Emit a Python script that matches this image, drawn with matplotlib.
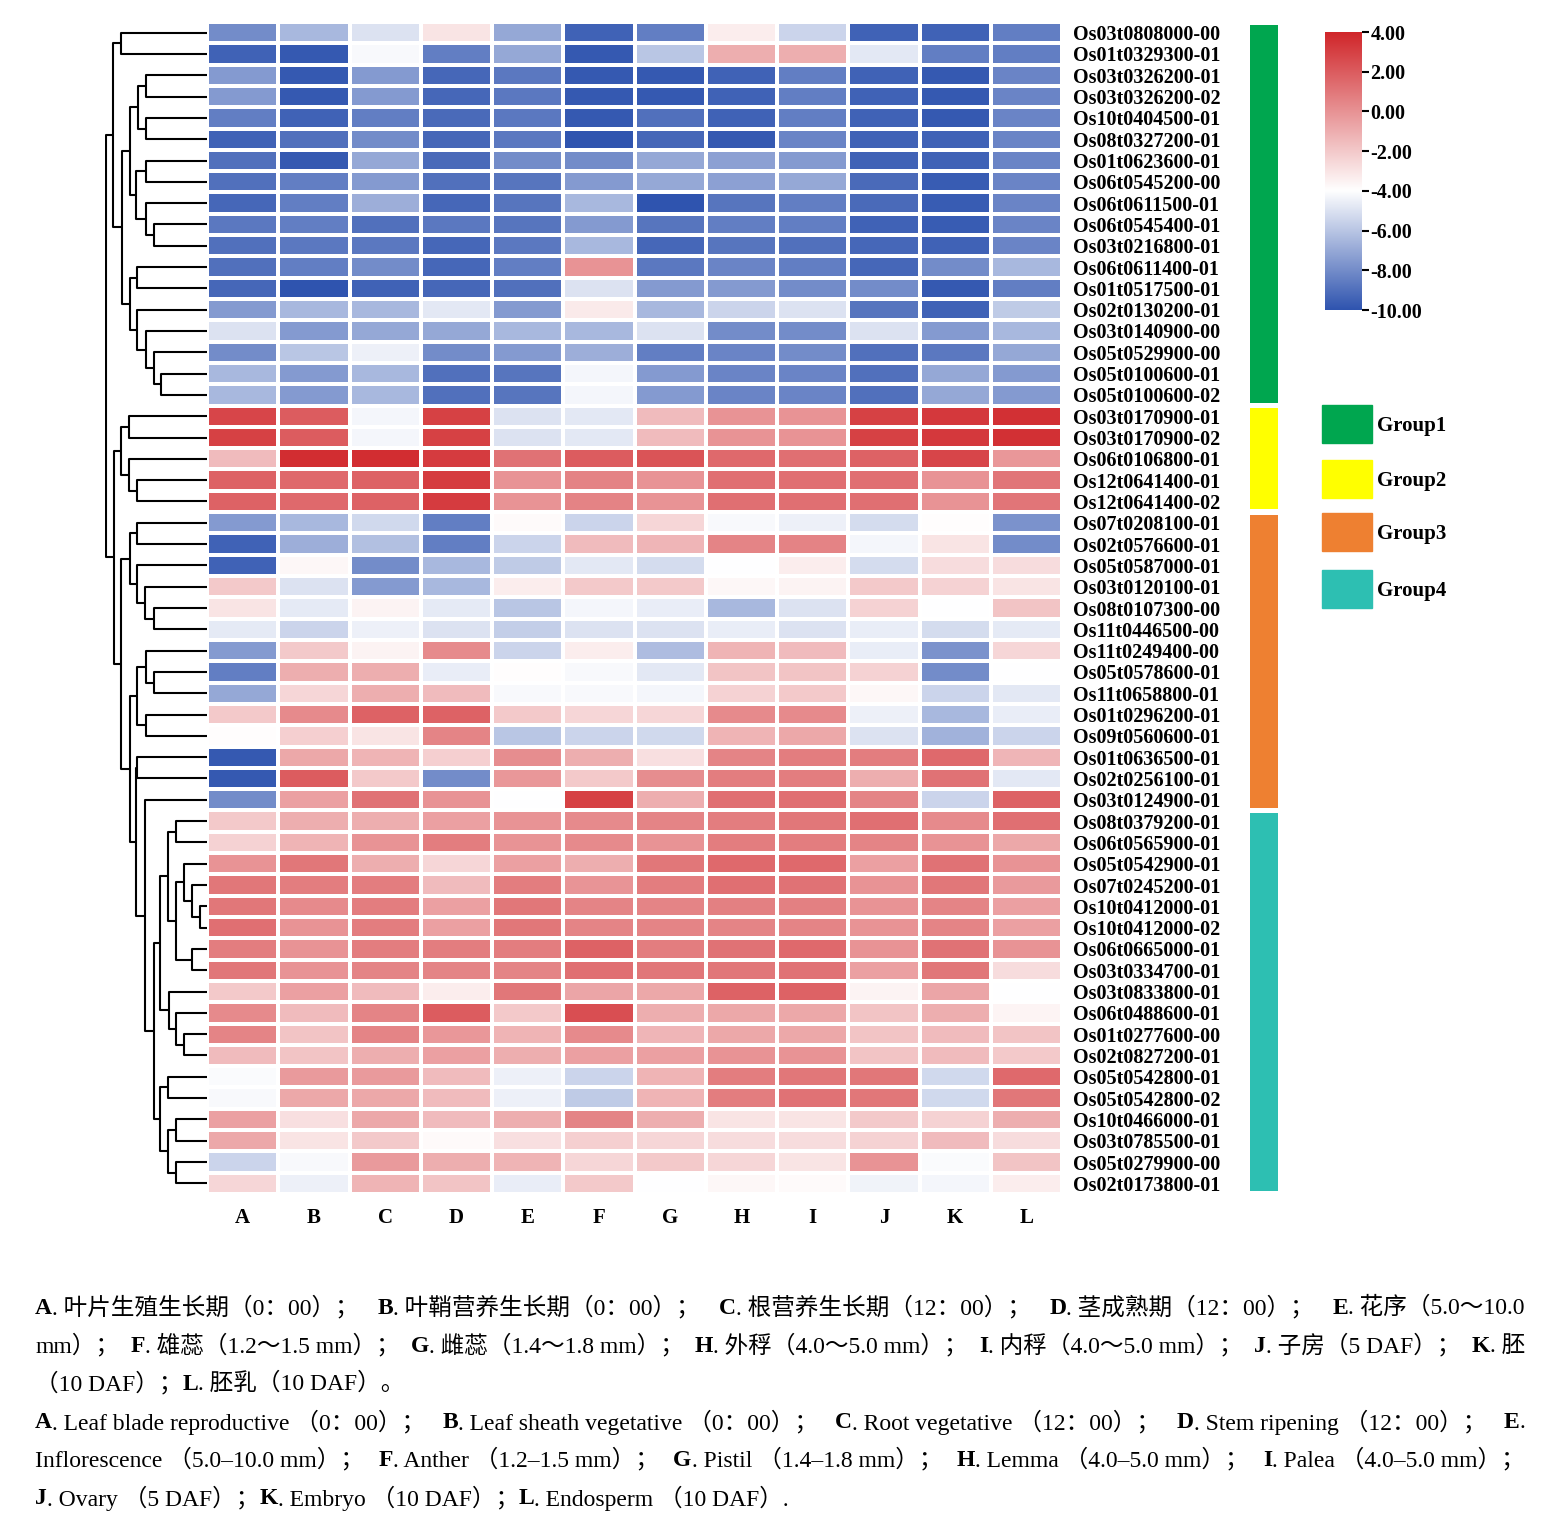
import numpy as np
import matplotlib
matplotlib.use("Agg")
import matplotlib.pyplot as plt
from matplotlib.colors import LinearSegmentedColormap
from matplotlib.patches import Rectangle

W, H = 1550, 1528

columns = list("ABCDEFGHIJKL")
genes = [
    "Os03t0808000-00", "Os01t0329300-01", "Os03t0326200-01", "Os03t0326200-02",
    "Os10t0404500-01", "Os08t0327200-01", "Os01t0623600-01", "Os06t0545200-00",
    "Os06t0611500-01", "Os06t0545400-01", "Os03t0216800-01", "Os06t0611400-01",
    "Os01t0517500-01", "Os02t0130200-01", "Os03t0140900-00", "Os05t0529900-00",
    "Os05t0100600-01", "Os05t0100600-02",
    "Os03t0170900-01", "Os03t0170900-02", "Os06t0106800-01", "Os12t0641400-01",
    "Os12t0641400-02",
    "Os07t0208100-01", "Os02t0576600-01", "Os05t0587000-01", "Os03t0120100-01",
    "Os08t0107300-00", "Os11t0446500-00", "Os11t0249400-00", "Os05t0578600-01",
    "Os11t0658800-01", "Os01t0296200-01", "Os09t0560600-01", "Os01t0636500-01",
    "Os02t0256100-01", "Os03t0124900-01",
    "Os08t0379200-01", "Os06t0565900-01", "Os05t0542900-01", "Os07t0245200-01",
    "Os10t0412000-01", "Os10t0412000-02", "Os06t0665000-01", "Os03t0334700-01",
    "Os03t0833800-01", "Os06t0488600-01", "Os01t0277600-00", "Os02t0827200-01",
    "Os05t0542800-01", "Os05t0542800-02", "Os10t0466000-01", "Os03t0785500-01",
    "Os05t0279900-00", "Os02t0173800-01",
]

expr = np.array([
    [-8, -6.5, -5, -3, -7, -9.5, -8.5, -3.3, -5.5, -9.5, -9.5, -8.5],
    [-9.5, -9.8, -4.2, -8.5, -7, -9.8, -6, -1, -1, -4.8, -8.5, -8.5],
    [-7.5, -9.8, -7.5, -9.3, -8.7, -9.8, -9.8, -9.5, -8.5, -9.5, -9.8, -8.3],
    [-7.5, -9.8, -7.5, -9.3, -8.7, -9.8, -9.8, -9.5, -8.5, -9.5, -9.8, -8.3],
    [-8.5, -9.5, -8.5, -9.2, -8.7, -9.8, -9, -9.5, -8.5, -9.5, -9.8, -8.3],
    [-9.5, -9, -8, -9.3, -8.7, -10, -9.3, -9.8, -8.3, -9.5, -9.5, -8.3],
    [-9, -9.8, -7, -9.2, -8, -8, -7, -7.3, -7.5, -9.5, -9.5, -8.3],
    [-9, -8.5, -7.5, -9, -8.8, -7.5, -7, -7.3, -7, -9.2, -9.7, -8.3],
    [-9.3, -8.5, -6.8, -9.3, -8.8, -6.5, -10, -8.8, -8.5, -9.2, -9.7, -8.3],
    [-8.7, -8.5, -9, -8.7, -8.8, -7.5, -8.8, -8.5, -8.5, -9.5, -9.7, -8.3],
    [-9, -8.7, -8.7, -9.3, -8.7, -6.5, -9.3, -8.8, -9, -9.3, -9.5, -8.3],
    [-9, -8.5, -8, -9.3, -8.5, 0, -8.7, -8.3, -8.5, -9.3, -8, -6.5],
    [-9.3, -10, -9.5, -9.3, -9, -5, -7.5, -7.5, -8, -8, -9.8, -8.5],
    [-7.5, -6.5, -6.5, -4.8, -7.5, -3.2, -6.5, -5.5, -5, -8.8, -9.5, -5.8],
    [-5, -7.5, -7, -7, -6.5, -6.5, -5, -8, -8, -5, -7.5, -6.5],
    [-8, -6, -4.5, -8, -7.5, -6.8, -8.5, -8.3, -8, -9, -8.7, -7],
    [-6.5, -7.5, -6.5, -9, -8.8, -4.3, -7.5, -8.3, -8.3, -9, -7, -7.5],
    [-6.5, -7.5, -6.5, -9, -8.8, -4.3, -7.5, -8.3, -8.3, -9, -7, -7.5],
    [2.8, 2, -4.3, 3, -5, -4.8, -1.5, 0, 0, 3, 3.3, 3.6],
    [3, 2, -4.3, 3, -5, -4.8, -1.5, 0, 0, 3, 3.3, 3.6],
    [-1.5, 3.7, 3.7, 3.2, 1.2, 2, 2.3, 1.5, 1.3, 1.8, 2.8, -0.2],
    [1.8, 1.5, 1.8, 3.2, 0, 0.6, 0, 1.3, 1.3, 1.3, 0, 1.1],
    [1.8, 1.5, 1.8, 3.2, 0, 0.6, 0, 1.3, 1.3, 1.3, 0, 1.1],
    [-7.5, -6.5, -5.3, -8.5, -3.8, -5.5, -2.5, -4.2, -4.5, -5.2, -3.9, -7.8],
    [-9.5, -6.8, -6.2, -8.5, -5.5, -1.5, -1.3, 0.5, 0.6, -4.3, -3, -8],
    [-9.5, -3.7, -8, -6.5, -5.8, -4.8, -5.2, -4, -3.3, -5.2, -2.7, -2.7],
    [-2, -5, -7.5, -6.5, -3.3, -2, -2, -3.7, -3.5, -2, -2.3, -3],
    [-3, -4.7, -3.5, -4.7, -6, -4.3, -4.6, -6.5, -5, -2.3, -4, -1.8],
    [-4.7, -5.5, -4.5, -5, -5.7, -5, -5, -4.6, -5, -4.6, -5.2, -4.7],
    [-7.5, -2, -3.5, 0.3, -5.5, -3.3, -6.3, -1.2, -1.5, -4.6, -7.8, -2.5],
    [-8.5, -1, -1, -4.6, -3.9, -4.2, -4.8, -1.8, -1.8, -2.3, -8, -4],
    [-7, -2.5, -1, -1.5, -4.2, -4.2, -4.3, -2.3, -2, -3.7, -5.5, -4.8],
    [-2, 0.3, 1.8, 1.8, -2, -2.5, -2.5, 0.3, 0.3, -4.5, -6.5, -4.6],
    [-3.9, -2.2, -3, 0.5, -6, -5.5, -5.3, -1.2, -0.8, -5, -6.7, -5.5],
    [-9.8, -0.8, -1.2, -2.2, 0.2, -1, -2.8, 0.5, 0.8, 0.8, 1.5, -1.3],
    [-9.8, 2, -2, -8, -0.2, -2, 0.2, 0.8, 0.8, -1, 1.2, -4.8],
    [-8, -0.5, 1.2, 0, -4, 3, -1, 1.3, 1.3, 0.5, -5.5, 1.8],
    [-2, -1, -1, -0.5, 0, 0.3, 0.5, 0.8, 1, 1.3, 0.3, 1.3],
    [-2.3, -1.2, 0, 0.8, 0, 0.3, 0, 0.8, 0.8, 0.5, 0, -0.8],
    [0, 1, -1, -2.5, -0.5, -1, 1, 1.5, 1.5, -0.5, 1.2, 0],
    [1, 0.8, 0.8, -1.5, 0.8, -0.1, 0.8, 1.3, 1.2, 0, 1, -0.3],
    [1, 0.3, 0.8, -0.5, 1, 0.5, 0.5, 0.7, 0.7, 0, 0.5, -0.5],
    [1.3, 0, 0.8, -0.5, 1, 0.5, 0.5, 0.5, 0.5, 0, 0.5, -0.5],
    [0.8, 0, 0.8, 0.8, 0.8, 1.8, 0.8, 1.2, 1.5, 0, 1.2, 0],
    [1, 0, 0.5, 0.5, 0.5, 1.3, 1, 1, 1.2, -0.5, 1, -2.7],
    [-2, -0.5, -1.5, -3.3, 1, -0.7, -0.8, 1.8, 1.8, -3.5, -0.7, -4],
    [0.3, -1.5, 0.5, 2, -2, 2.5, -1, -0.8, -0.8, -1.8, -1, -3.6],
    [0.5, -1.8, 0.5, -0.2, -1.2, 0.3, -1.3, -0.8, -0.8, -1.8, -1.5, -1.8],
    [-1.5, -1.8, -1, -0.5, -1, -0.5, -0.5, 0, 0, -1.8, -1.5, -2],
    [-4.1, -0.3, -0.3, -1.5, -4.5, -5.5, -1.2, 0.8, 1, 1, -5.3, 1.5],
    [-4.2, -0.8, -0.8, -1.5, -4.5, -5.8, -1.2, 0.8, 1.2, 1, -5.3, 1],
    [-0.5, -2.8, -0.8, -1.5, -1, 0.5, -1, -3, -3, -2, -2.3, -1],
    [-0.8, -3, -2, -3.8, -2.8, -2.2, -2.5, -2.7, -2.7, -2.3, -1.5, -2.7],
    [-5.5, -4.2, -0.3, -1, -1.2, -2.5, -2, -2.5, -3, 0, -4.1, -1.8],
    [-2.5, -4.5, -1.2, -1.8, -4.6, -2, -4, -3.7, -3.8, -4.4, -4.3, -3.3],
])

group_names = ["Group1", "Group2", "Group3", "Group4"]
group_sizes = [18, 5, 14, 18]
group_colors = ["#00A64F", "#FFFF00", "#EE8031", "#2DBFB2"]

# dendrogram: (merge distance, left, right); leaves are row indices
tree = (102,
        (95, (87, 0, 1),
         (86, (78, (70, (62, 2, 3), (62, 4, 5)),
               (72, (62, 6, 7), (62, 8, (54, 9, 10)))),
          (78, (71, 11, 12), (71, 13, (62, 14, (54, 15, (46, 16, 17))))))),
        (94, (87, (79, 18, 19), (79, 20, (71, 21, 22))),
         (87, (78, (71, 23, 24), (71, 25, (63, 26, (54, 27, 28)))),
          (78, (71, (62, 29, (54, 30, 31)), (62, 32, 33)),
           (72, (71, 34, 35),
            (63, 36,
             (54, (47, (39, (31, 37, 38), (31, (23, 39, (15, 40, (7, 41, 42))), (15, 43, 44))),
                   (38, 45, (31, 46, (23, 47, 48)))),
              (47, (39, 49, 50), (39, (31, 51, 52), (31, 53, 54))))))))))

cap_lines = [
    [("A", True), (". 叶片生殖生长期（0：00）；", False), ("B", True), (". 叶鞘营养生长期（0：00）；", False),
     ("C", True), (". 根营养生长期（12：00）；", False), ("D", True), (". 茎成熟期（12：00）；", False),
     ("E", True), (". 花序（5.0～10.0", False)],
    [("mm）；", False), ("F", True), (". 雄蕊（1.2～1.5 mm）；", False), ("G", True), (". 雌蕊（1.4～1.8 mm）；", False),
     ("H", True), (". 外稃（4.0～5.0 mm）；", False), ("I", True), (". 内稃（4.0～5.0 mm）；", False),
     ("J", True), (". 子房（5 DAF）；", False), ("K", True), (". 胚", False)],
    [("（10 DAF）；", False), ("L", True), (". 胚乳（10 DAF）。", False)],
    [("A", True), (". Leaf blade reproductive （0：00）；", False), ("B", True), (". Leaf sheath vegetative （0：00）；", False),
     ("C", True), (". Root vegetative （12：00）；", False), ("D", True), (". Stem ripening （12：00）；", False), ("E", True), (".", False)],
    [("Inflorescence （5.0–10.0 mm）；", False), ("F", True), (". Anther （1.2–1.5 mm）；", False), ("G", True),
     (". Pistil （1.4–1.8 mm）；", False), ("H", True), (". Lemma （4.0–5.0 mm）；", False), ("I", True),
     (". Palea （4.0–5.0 mm）；", False)],
    [("J", True), (". Ovary （5 DAF）；", False), ("K", True), (". Embryo （10 DAF）；", False), ("L", True),
     (". Endosperm （10 DAF）.", False)],
]
cap_justify = [True, True, False, True, True, False]


def fr(x0, y0, x1, y1):
    return [x0 / W, 1 - y1 / H, (x1 - x0) / W, (y1 - y0) / H]


serif = ["Liberation Serif", "Noto Sans CJK SC", "DejaVu Sans"]
fig = plt.figure(figsize=(W / 100, H / 100), dpi=100)

cmap = LinearSegmentedColormap.from_list(
    "bwr_custom", [(0, "#2F54AF"), (0.43, "#FFFFFF"), (1, "#D0262A")])

n = len(genes)
ax = fig.add_axes(fr(207, 22, 1062, 1194))
ax.pcolormesh(expr, cmap=cmap, vmin=-10, vmax=4, edgecolors="white", linewidth=1.5)
ax.set_xlim(0, 12)
ax.set_ylim(n, 0)
ax.set_xticks(np.arange(12) + 0.5)
ax.set_xticklabels(columns, fontfamily=serif, fontweight="bold", fontsize=15)
ax.set_yticks(np.arange(n) + 0.5)
ax.set_yticklabels(genes, fontfamily=serif, fontweight="bold", fontsize=14.5)
ax.yaxis.tick_right()
ax.tick_params(length=0, pad=8)
ax.tick_params(axis="x", pad=10)
for s in ax.spines.values():
    s.set_visible(False)

# dendrogram
dax = fig.add_axes(fr(105, 22, 207, 1194))


def draw(node):
    if isinstance(node, int):
        return node + 0.5, 0
    h, l, r = node
    yl, hl = draw(l)
    yr, hr = draw(r)
    dax.plot([hl, h, h, hr], [yl, yl, yr, yr], color="black", lw=1.5, solid_capstyle="butt")
    return (yl + yr) / 2, h


draw(tree)
dax.set_xlim(103, 0)
dax.set_ylim(n, 0)
dax.axis("off")

# group bar
gax = fig.add_axes(fr(1250, 22, 1278, 1194))
start = 0
for size, col in zip(group_sizes, group_colors):
    gax.barh(start + size / 2, 1, height=size - 0.25, color=col)
    start += size
gax.set_xlim(0, 1)
gax.set_ylim(n, 0)
gax.axis("off")

# colorbar
cax = fig.add_axes(fr(1325, 32, 1362, 310))
grad = np.linspace(-10, 4, 256).reshape(-1, 1)
cax.imshow(grad, cmap=cmap, vmin=-10, vmax=4, aspect="auto", origin="lower", extent=[0, 1, -10, 4])
cax.set_xticks([])
cax.yaxis.tick_right()
cax.set_yticks(np.arange(-10, 5, 2))
cax.set_yticklabels([f"{v:.2f}" for v in np.arange(-10, 5, 2)], fontfamily=serif,
                    fontweight="bold", fontsize=14.5)
cax.tick_params(axis="y", length=5, width=1.5, pad=1)
for s in cax.spines.values():
    s.set_visible(False)

# legend
for i, (name, col) in enumerate(zip(group_names, group_colors)):
    y0 = [405, 460, 513, 570][i]
    fig.patches.append(Rectangle((1322 / W, 1 - (y0 + 38) / H), 50 / W, 38 / H,
                                 transform=fig.transFigure, color=col))
    fig.text(1377 / W, 1 - (y0 + 21) / H, name, fontfamily=serif, fontweight="bold",
             fontsize=15, va="center")

# caption, justified lines spread the spare room after each plain segment
renderer = fig.canvas.get_renderer()
x_left, x_right = 35, 1525
for k, segs in enumerate(cap_lines):
    y = 1 - (1308 + 38 * k) / H
    items = []
    total = 0
    for s, b in segs:
        t = fig.text(0, y, s, fontfamily=serif, fontweight="bold" if b else "normal",
                     fontsize=17, va="center")
        w = t.get_window_extent(renderer).width
        items.append((t, w, b))
        total += w
    n_gaps = sum(1 for t, w, b in items[:-1] if not b)
    gap = 0
    if cap_justify[k] and n_gaps:
        gap = max((x_right - x_left - total) / n_gaps, 0)
    x = x_left
    for j, (t, w, b) in enumerate(items):
        t.set_x(x / W)
        x += w
        if not b and j < len(items) - 1:
            x += gap

fig.savefig("out.png", dpi=100)
